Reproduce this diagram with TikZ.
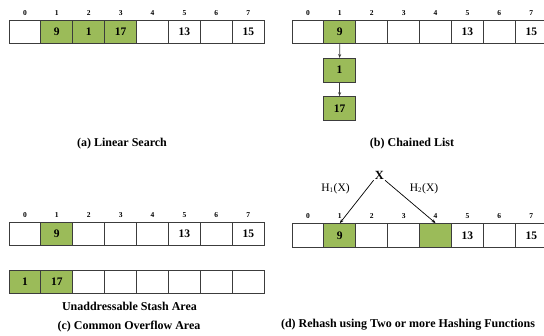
\documentclass[tikz,border=0pt]{standalone}
\usepackage{fontspec}
\setmainfont{Liberation Serif}
\usetikzlibrary{arrows.meta}
\definecolor{cellgreen}{HTML}{9BBB59}
\definecolor{edge}{HTML}{3C3C3C}
\tikzset{
  cell/.style={draw=edge, line width=0.9pt, minimum width=31.9pt, minimum height=23.5pt,
    inner sep=0pt, font=\bfseries\fontsize{11.5}{12}\selectfont},
  full/.style={cell, fill=cellgreen},
  idx/.style={font=\bfseries\fontsize{7.5}{8}\selectfont, inner sep=0pt},
  caption/.style={font=\bfseries\fontsize{12}{14}\selectfont, inner sep=0pt},
  fn/.style={font=\fontsize{11.5}{13}\selectfont, inner sep=0pt},
  link/.style={draw=edge, line width=0.7pt, -{Stealth[length=4pt,width=3pt]}}
}
\begin{document}
\begin{tikzpicture}[x=1pt,y=-1pt]
\useasboundingbox (0,0) rectangle (544,335);
\clip (0,0) rectangle (544,335);

% (a) linear search
\foreach \i/\t/\s in {0//cell,1/9/full,2/1/full,3/17/full,4//cell,5/13/cell,6//cell,7/15/cell}{
  \node[\s] (a\i) at ({9+31.9*\i+15.95},31.7) {\t};
  \node[idx] (ai\i) at ({9+31.9*\i+15.95},13) {\i};
}
\node[caption] (capa) at (122,144) {(a) Linear Search};

% (b) chained list
\foreach \i/\t/\s in {0//cell,1/9/full,2//cell,3//cell,4//cell,5/13/cell,6//cell,7/15/cell}{
  \node[\s] (b\i) at ({292+31.9*\i+15.95},32) {\t};
  \node[idx] (bi\i) at ({292+31.9*\i+15.95},13) {\i};
}
\node[full] (ch1) at (339.6,70.2) {1};
\node[full] (ch2) at (339.6,108.4) {17};
\draw[link] (b1.south) -- (ch1.north);
\draw[link] (ch1.south) -- (ch2.north);
\node[caption] (capb) at (412,143.5) {(b) Chained List};

% (c) common overflow area
\foreach \i/\t/\s in {0//cell,1/9/full,2//cell,3//cell,4//cell,5/13/cell,6//cell,7/15/cell}{
  \node[\s] (c\i) at ({9+31.9*\i+15.95},234) {\t};
  \node[idx] (ci\i) at ({9+31.9*\i+15.95},215) {\i};
}
\foreach \i/\t/\s in {0/1/full,1/17/full,2//cell,3//cell,4//cell,5//cell,6//cell,7//cell}{
  \node[\s] (s\i) at ({9+31.9*\i+15.95},281.7) {\t};
}
\node[caption] (stash) at (129.5,306.7) {Unaddressable Stash Area};
\node[caption] (capc) at (129,326.7) {(c) Common Overflow Area};

% (d) rehash with several hash functions
\foreach \i/\t/\s in {0//cell,1/9/full,2//cell,3//cell,4//full,5/13/cell,6//cell,7/15/cell}{
  \node[\s] (d\i) at ({292+31.9*\i+15.95},235.3) {\t};
  \node[idx] (di\i) at ({292+31.9*\i+15.95},216) {\i};
}
\node[font=\bfseries\fontsize{12.5}{13}\selectfont, inner sep=1pt] (x) at (379.3,175) {X};
\node[fn] (h1) at (335.5,188.3) {H\textsubscript{\fontsize{7}{8}\selectfont 1}(X)};
\node[fn] (h2) at (424,188.3) {H\textsubscript{\fontsize{7}{8}\selectfont 2}(X)};
\draw[link, draw=black] (x.south west) -- (d1.north);
\draw[link, draw=black] (x.south east) -- (d4.north);
\node[caption] (capd) at (408,325) {(d) Rehash using Two or more Hashing Functions};
\end{tikzpicture}
\end{document}
